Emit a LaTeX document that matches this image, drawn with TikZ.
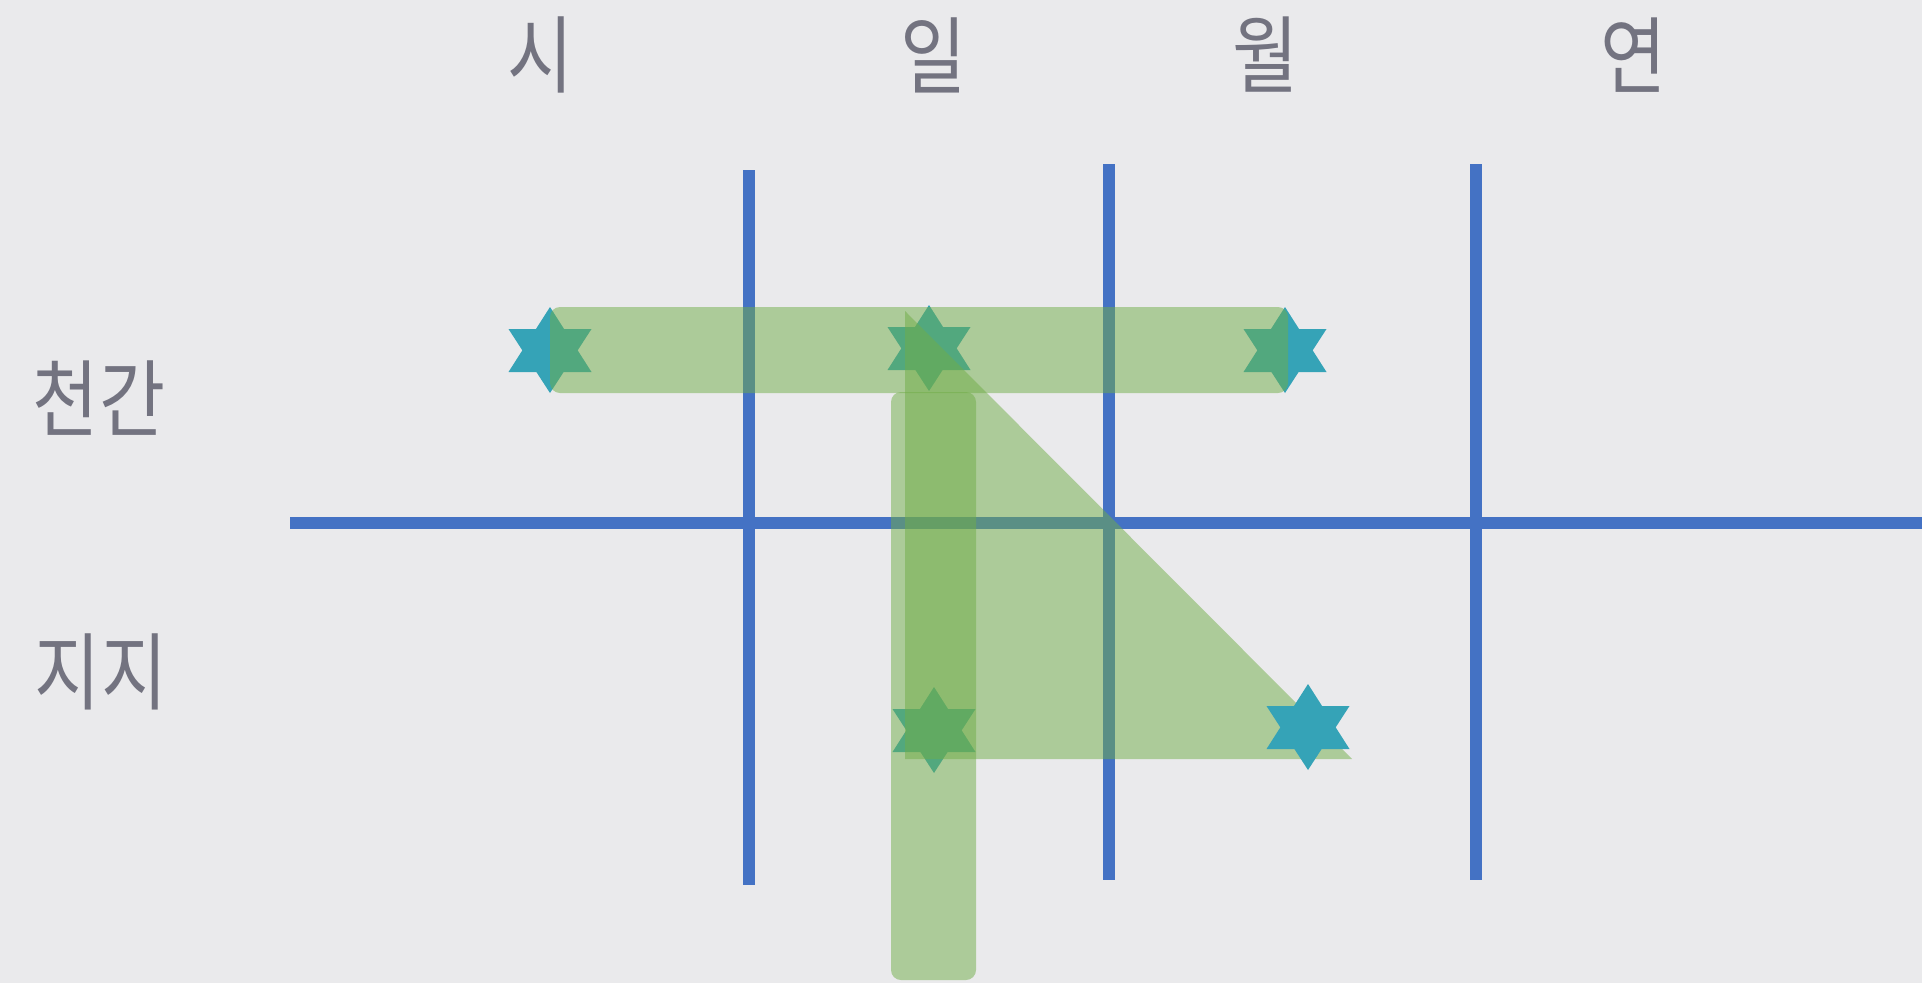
\documentclass[tikz,border=0pt]{standalone}
\usepackage{fontspec}
\newfontfamily\krfont{Noto Sans CJK KR}
\definecolor{bgpaper}{HTML}{EAEAEC}
\definecolor{gridblue}{HTML}{4472C4}
\definecolor{bandgreen}{HTML}{70AD47}
\definecolor{starteal}{HTML}{35A3B7}
\definecolor{labelgray}{HTML}{737380}
\newcommand{\krlabel}[1]{\scalebox{0.97}[1.14]{#1}}
\tikzset{
  gridline/.style={draw=gridblue, line width=12pt},
  band/.style={fill=bandgreen, fill opacity=0.5, rounded corners=10pt},
  hexstar/.pic={
    \fill[starteal] (0,-43) -- (41.5,22) -- (-41.5,22) -- cycle;
    \fill[starteal] (0,43) -- (41.5,-21) -- (-41.5,-21) -- cycle;
  },
  lbl/.style={text=labelgray, font=\krfont\fontsize{74}{80}\selectfont, inner sep=0pt}
}
\begin{document}
\begin{tikzpicture}[x=1pt, y=-1pt]
\fill[bgpaper] (0,0) rectangle (1922,983);
\useasboundingbox (0,0) rectangle (1922,983);
% labels
\node[lbl] (si) at (541,55) {\krlabel{시}};
\node[lbl] (il) at (934,55) {\krlabel{일}};
\node[lbl] (wol) at (1266,55) {\krlabel{월}};
\node[lbl] (yeon) at (1633,55) {\krlabel{연}};
\node[lbl] (cheongan) at (99,398) {\krlabel{천간}};
\node[lbl] (jiji) at (101,672) {\krlabel{지지}};
% grid
\coordinate (hL) at (290,523);
\coordinate (hR) at (1922,523);
\draw[gridline] (hL) -- (hR);
\coordinate (v1t) at (749,170); \coordinate (v1b) at (749,885);
\coordinate (v2t) at (1109,164); \coordinate (v2b) at (1109,880);
\coordinate (v3t) at (1476,164); \coordinate (v3b) at (1476,880);
\draw[gridline] (v1t) -- (v1b);
\draw[gridline] (v2t) -- (v2b);
\draw[gridline] (v3t) -- (v3b);
% stars under the green shapes
\pic at (550,350) {hexstar};
\pic at (929,348) {hexstar};
\pic at (1285,350) {hexstar};
\pic at (934,730) {hexstar};
% green shapes
\fill[band] (550,307) rectangle (1288,393);
\fill[band] (891,392) rectangle (976,980);
\fill[bandgreen, fill opacity=0.5] (905,311) -- (905,759) -- (1352,759) -- cycle;
% star on top
\pic at (1308,727) {hexstar};
\end{tikzpicture}
\end{document}
